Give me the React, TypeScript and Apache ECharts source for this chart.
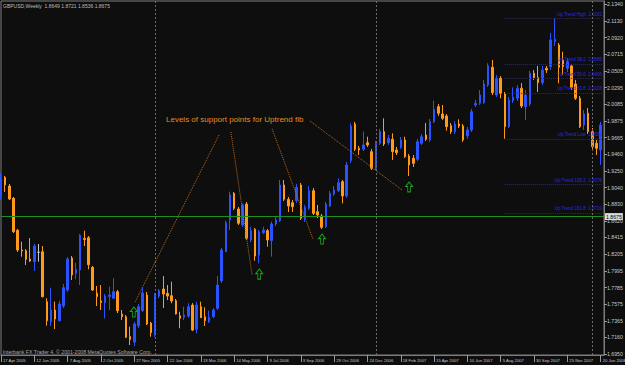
import React, { useEffect, useRef } from 'react';
import * as echarts from 'echarts';

const FONT = '"Liberation Sans", Arial, sans-serif';

const tickWeeks = [0, 8, 16, 24, 32, 40, 48, 56, 64, 72, 80, 88, 96, 104, 112, 120, 128, 136, 144];
const tickLabels = [
  '17 Apr 2005', '12 Jun 2005', '7 Aug 2005', '2 Oct 2005', '27 Nov 2005', '22 Jan 2006',
  '19 Mar 2006', '14 May 2006', '9 Jul 2006', '3 Sep 2006', '29 Oct 2006', '24 Dec 2006',
  '18 Feb 2007', '15 Apr 2007', '10 Jun 2007', '5 Aug 2007', '30 Sep 2007', '25 Nov 2007', '20 Jan 2008',
];
const priceTicks = [
  2.134, 2.113, 2.092, 2.0715, 2.0505, 2.0295, 2.0085, 1.9875, 1.9665, 1.946, 1.925,
  1.904, 1.883, 1.862, 1.8415, 1.8205, 1.7995, 1.7785, 1.7575, 1.7365, 1.716, 1.695,
];

const opens = [
  1.8925, 1.9168, 1.9059, 1.8905, 1.8503, 1.8256, 1.8247, 1.8143, 1.8109, 1.8227,
  1.8234, 1.7607, 1.7356, 1.7503, 1.7368, 1.7553, 1.7754, 1.8155, 1.7963, 1.8005,
  1.8400, 1.8410, 1.8039, 1.7712, 1.7616, 1.7594, 1.7672, 1.7649, 1.7732, 1.7452,
  1.7418, 1.7170, 1.7101, 1.7306, 1.7494, 1.7691, 1.7339, 1.7189, 1.7678, 1.7766,
  1.7712, 1.7682, 1.7619, 1.7431, 1.7411, 1.7427, 1.7565, 1.7260, 1.7544, 1.7418,
  1.7356, 1.7418, 1.7524, 1.7867, 1.8234, 1.8632, 1.8967, 1.8770, 1.8570, 1.8833,
  1.8381, 1.8516, 1.8193, 1.8473, 1.8498, 1.8373, 1.8582, 1.8624, 1.9072, 1.8892,
  1.8850, 1.8875, 1.9072, 1.8654, 1.8779, 1.9000, 1.8737, 1.8683, 1.8548, 1.8808,
  1.8959, 1.9000, 1.9113, 1.8934, 1.9377, 1.9837, 1.9532, 1.9520, 1.9603, 1.9490,
  1.9281, 1.9595, 1.9741, 1.9603, 1.9645, 1.9511, 1.9545, 1.9637, 1.9436, 1.9407,
  1.9394, 1.9595, 1.9699, 1.9637, 1.9866, 2.0055, 1.9963, 1.9938, 1.9816, 1.9741,
  1.9837, 1.9812, 1.9687, 1.9762, 2.0076, 2.0097, 2.0105, 2.0327, 2.0549, 2.0201,
  2.0411, 2.0214, 1.9804, 2.0130, 2.0160, 2.0286, 2.0055, 2.0089, 2.0474, 2.0419,
  2.0356, 2.0537, 2.0557, 2.0871, 2.0829, 2.0641, 2.0537, 2.0566, 2.0340, 2.0160,
  1.9825, 1.9972, 1.9741, 1.9595, 1.9511,
];
const closes = [
  1.9147, 1.9072, 1.8896, 1.8486, 1.8256, 1.8243, 1.8139, 1.8118, 1.8306, 1.8227,
  1.7670, 1.7368, 1.7503, 1.7390, 1.7578, 1.7783, 1.8143, 1.7942, 1.8013, 1.8440,
  1.8388, 1.8071, 1.7754, 1.7670, 1.7597, 1.7678, 1.7691, 1.7732, 1.7494, 1.7418,
  1.7160, 1.7132, 1.7327, 1.7544, 1.7716, 1.7327, 1.7218, 1.7691, 1.7745, 1.7703,
  1.7678, 1.7616, 1.7452, 1.7398, 1.7440, 1.7544, 1.7251, 1.7565, 1.7406, 1.7368,
  1.7411, 1.7503, 1.7816, 1.8256, 1.8599, 1.8946, 1.8779, 1.8591, 1.8821, 1.8403,
  1.8498, 1.8180, 1.8486, 1.8507, 1.8381, 1.8582, 1.8632, 1.9072, 1.8892, 1.8808,
  1.8799, 1.9043, 1.8654, 1.8792, 1.9000, 1.8716, 1.8695, 1.8541, 1.8833, 1.8967,
  1.9009, 1.9101, 1.8934, 1.9323, 1.9812, 1.9520, 1.9511, 1.9574, 1.9574, 1.9281,
  1.9595, 1.9741, 1.9586, 1.9658, 1.9490, 1.9477, 1.9637, 1.9427, 1.9323, 1.9344,
  1.9615, 1.9678, 1.9645, 1.9866, 2.0022, 1.9972, 1.9909, 1.9804, 1.9741, 1.9837,
  1.9812, 1.9637, 1.9762, 1.9992, 2.0097, 2.0201, 2.0340, 2.0566, 2.0230, 2.0411,
  2.0223, 1.9804, 2.0139, 2.0173, 2.0286, 2.0063, 2.0201, 2.0474, 2.0419, 2.0356,
  2.0515, 2.0515, 2.0892, 2.0901, 2.0549, 2.0557, 2.0620, 2.0298, 2.0160, 1.9804,
  1.9963, 1.9741, 1.9553, 1.9532, 1.9825,
];
const highs = [
  1.9222, 1.9185, 1.9084, 1.8921, 1.8519, 1.8360, 1.8268, 1.8406, 1.8331, 1.8331,
  1.8306, 1.7650, 1.7783, 1.7607, 1.7619, 1.7829, 1.8168, 1.8180, 1.8096, 1.8457,
  1.8498, 1.8431, 1.8055, 1.7804, 1.7816, 1.7703, 1.7795, 1.7901, 1.7754, 1.7503,
  1.7440, 1.7293, 1.7352, 1.7578, 1.7783, 1.7729, 1.7352, 1.7716, 1.7766, 1.7929,
  1.7816, 1.7858, 1.7641, 1.7481, 1.7544, 1.7587, 1.7590, 1.7607, 1.7607, 1.7537,
  1.7494, 1.7528, 1.7929, 1.8281, 1.8624, 1.8988, 1.8984, 1.8796, 1.8842, 1.8858,
  1.8548, 1.8532, 1.8507, 1.8548, 1.8519, 1.8611, 1.8674, 1.9134, 1.9134, 1.8921,
  1.8883, 1.9084, 1.9097, 1.8821, 1.9059, 1.9034, 1.8821, 1.8708, 1.8858, 1.8996,
  1.9059, 1.9156, 1.9134, 1.9360, 1.9846, 1.9863, 1.9561, 1.9741, 1.9678, 1.9524,
  1.9624, 1.9775, 1.9909, 1.9699, 1.9721, 1.9549, 1.9674, 1.9678, 1.9461, 1.9448,
  1.9649, 1.9712, 1.9850, 1.9900, 2.0130, 2.0089, 2.0076, 1.9963, 1.9850, 1.9875,
  1.9896, 1.9837, 1.9800, 2.0026, 2.0139, 2.0264, 2.0390, 2.0599, 2.0641, 2.0453,
  2.0440, 2.0239, 2.0176, 2.0298, 2.0327, 2.0352, 2.0264, 2.0503, 2.0515, 2.0566,
  2.0566, 2.0566, 2.0980, 2.1161, 2.0854, 2.0745, 2.0666, 2.0591, 2.0390, 2.0189,
  2.0013, 2.0038, 1.9787, 1.9637, 1.9863,
];
const lows = [
  1.8883, 1.8984, 1.8883, 1.8469, 1.8231, 1.8172, 1.8068, 1.8105, 1.7992, 1.8109,
  1.7660, 1.7306, 1.7302, 1.7264, 1.7358, 1.7528, 1.7732, 1.7879, 1.7888, 1.7816,
  1.8306, 1.8013, 1.7741, 1.7553, 1.7503, 1.7398, 1.7503, 1.7641, 1.7465, 1.7377,
  1.7151, 1.7063, 1.7051, 1.7277, 1.7481, 1.7314, 1.7167, 1.7164, 1.7653, 1.7528,
  1.7628, 1.7587, 1.7446, 1.7273, 1.7377, 1.7402, 1.7239, 1.7210, 1.7402, 1.7302,
  1.7339, 1.7402, 1.7503, 1.7842, 1.8231, 1.8507, 1.8758, 1.8570, 1.8545, 1.8381,
  1.8356, 1.8121, 1.8089, 1.8457, 1.8297, 1.8172, 1.8557, 1.8607, 1.8871, 1.8733,
  1.8733, 1.8846, 1.8632, 1.8607, 1.8758, 1.8695, 1.8657, 1.8519, 1.8532, 1.8796,
  1.8934, 1.8984, 1.8842, 1.8909, 1.9348, 1.9498, 1.9448, 1.9498, 1.9549, 1.9260,
  1.9260, 1.9574, 1.9561, 1.9574, 1.9386, 1.9448, 1.9524, 1.9411, 1.9185, 1.9298,
  1.9373, 1.9574, 1.9624, 1.9612, 1.9850, 1.9938, 1.9888, 1.9753, 1.9712, 1.9712,
  1.9787, 1.9612, 1.9649, 1.9737, 2.0051, 2.0076, 2.0089, 2.0302, 2.0201, 2.0176,
  2.0160, 1.9652, 1.9787, 2.0101, 2.0126, 2.0038, 1.9888, 2.0063, 2.0390, 2.0239,
  2.0327, 2.0478, 2.0515, 2.0817, 2.0348, 2.0453, 2.0490, 2.0264, 2.0139, 1.9787,
  1.9762, 1.9712, 1.9511, 1.9448, 1.9323,
];

const titleText = 'GBPUSD,Weekly  1.8649 1.8721 1.8536 1.8675';
const copyrightText = 'Interbank FX Trader 4, \u00A9 2001-2008 MetaQuotes Software Corp.';
const noteText = 'Levels of support points for Uptrend fib';
const bidPrice = 1.8675;
const yearStartWeeks = [37, 90, 142];
const fibStartWeek = 121;
const fibLevels = [2.1161, 2.0585, 2.0406, 2.0228, 1.9652, 1.9076, 1.8719];
const fibNames = ['Up Trend High', 'Up Trend 38.2', 'Up Trend 50.0', 'Up Trend 61.8', 'Up Trend Low', 'Up Trend 138.2', 'Up Trend 161.8'];
// arrows: [week, price]
const arrowPoints = [[31.9, 1.7478], [62.0, 1.7954], [77.1, 1.8394], [98.0, 1.9047]];
// trend lines: [[week, price], [week, price]]
const trendLines = [
  [[52.35, 1.9699], [32.2, 1.7603]],
  [[55.2, 1.9737], [60.3, 1.7942]],
  [[65.1, 1.9775], [74.9, 1.8394]],
  [[74.2, 1.9875], [96.3, 1.9009]],
];

const X_MIN = 0;
const X_MAX = 144.8;
const Y_MIN = 1.6938;
const Y_MAX = 2.1381;

const UP = '#2a52ff';
const DOWN = '#ff9a1a';

export default function App() {
  const ref = useRef<HTMLDivElement>(null);
  useEffect(() => {
    if (!ref.current) return;
    const chart = echarts.init(ref.current, undefined, { renderer: 'svg' });

    const data = opens.map((o, i) => {
      const item: any = { value: [i, o, closes[i], lows[i], highs[i]] };
      if (o === closes[i]) {
        item.itemStyle = { color: '#c8c8c8', borderColor: '#c8c8c8', color0: '#c8c8c8', borderColor0: '#c8c8c8' };
      }
      return item;
    });

    const markLineData: any[] = [];
    markLineData.push([
      {
        coord: [X_MIN, bidPrice],
        lineStyle: { color: '#1f8f1f', width: 1, type: 'solid' },
        label: {
          show: true, position: 'end', distance: 1, formatter: bidPrice.toFixed(4),
          backgroundColor: '#dcdcdc', color: '#000', fontSize: 5.2, fontFamily: FONT,
          padding: [1, 1, 1, 1],
        },
      },
      { coord: [X_MAX, bidPrice] },
    ]);
    yearStartWeeks.forEach((w) => {
      markLineData.push([
        { coord: [w, Y_MIN], lineStyle: { color: '#6a6a6a', width: 1, type: [2, 2] }, label: { show: false } },
        { coord: [w, Y_MAX] },
      ]);
    });
    fibLevels.forEach((lvl, k) => {
      markLineData.push([
        {
          coord: [fibStartWeek, lvl],
          lineStyle: { color: '#1c1ccf', width: 1, type: [1, 1] },
          label: {
            show: true, position: 'insideEndTop', distance: 2,
            formatter: fibNames[k] + '  ' + lvl.toFixed(4),
            color: '#2a2ae6', fontSize: 4.5, fontFamily: FONT,
          },
        },
        { coord: [X_MAX, lvl] },
      ]);
    });
    trendLines.forEach((ln) => {
      markLineData.push([
        { coord: ln[0], lineStyle: { color: '#c06a14', width: 1, type: [1, 1] }, label: { show: false } },
        { coord: ln[1] },
      ]);
    });

    const option: any = {
      animation: false,
      backgroundColor: '#0e0e0e',
      textStyle: { fontFamily: FONT },
      grid: {
        left: 1, right: 21, top: 1, bottom: 10,
        show: true, borderColor: '#7c7c7c', borderWidth: 1,
        containLabel: false, outerBoundsMode: 'none',
      },
      xAxis: {
        type: 'value', min: X_MIN, max: X_MAX,
        axisLine: { show: true, onZero: false, lineStyle: { color: '#7c7c7c' } },
        splitLine: { show: false },
        axisTick: { show: true, customValues: tickWeeks, length: 7, lineStyle: { color: '#9a9a9a' } },
        axisLabel: {
          customValues: tickWeeks,
          formatter: (v: number) => {
            const k = tickWeeks.indexOf(Math.round(v));
            return k >= 0 ? tickLabels[k] : '';
          },
          color: '#c8c8c8', fontSize: 4.2, fontFamily: FONT, align: 'left', margin: 3,
          padding: [0, 0, 0, 2],
        },
      },
      yAxis: {
        type: 'value', position: 'right', min: Y_MIN, max: Y_MAX,
        axisLine: { show: true, onZero: false, lineStyle: { color: '#7c7c7c' } },
        splitLine: { show: false },
        axisTick: { show: true, customValues: priceTicks, length: 3, lineStyle: { color: '#9a9a9a' } },
        axisLabel: {
          customValues: priceTicks,
          formatter: (v: number) => v.toFixed(4),
          color: '#c8c8c8', fontSize: 5.2, fontFamily: FONT, margin: 3,
        },
      },
      series: [
        {
          type: 'candlestick',
          data,
          barWidth: 2,
          itemStyle: {
            color: UP, color0: DOWN, borderColor: UP, borderColor0: DOWN,
            borderColorDoji: '#c8c8c8', borderWidth: 1,
          },
          markLine: {
            silent: true,
            symbol: ['none', 'none'],
            animation: false,
            data: markLineData,
          },
          markPoint: {
            silent: true,
            animation: false,
            symbol: 'path://M5,0 L10,5 L7,5 L7,11 L3,11 L3,5 L0,5 Z',
            symbolSize: [7, 10],
            itemStyle: { color: 'rgba(0,0,0,0)', borderColor: '#19a019', borderWidth: 1 },
            label: { show: false },
            data: arrowPoints.map((p) => ({ coord: p })),
          },
        },
      ],
      graphic: [
        {
          type: 'text', x: 3, y: 5.5, z: 100,
          style: { text: titleText, fill: '#bdbdbd', fontSize: 5, fontFamily: FONT, verticalAlign: 'middle' },
        },
        {
          type: 'text', x: 2.7, y: 352, z: 100,
          style: { text: copyrightText, fill: '#a8a8a8', fontSize: 5.2, fontFamily: FONT, verticalAlign: 'middle' },
        },
        {
          type: 'text', x: 166, y: 119, z: 100,
          style: { text: noteText, fill: '#e68c1e', fontSize: 8, fontFamily: FONT, verticalAlign: 'middle' },
        },
      ],
    };
    chart.setOption(option);
    return () => chart.dispose();
  }, []);

  return (
    <div
      ref={ref}
      style={{ position: 'fixed', left: 0, top: 0, width: 625, height: 365, background: '#0e0e0e' }}
    />
  );
}
